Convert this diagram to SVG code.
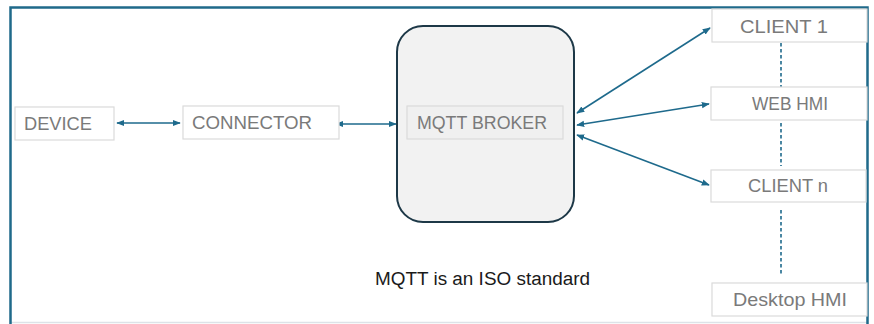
<svg xmlns="http://www.w3.org/2000/svg" width="874" height="324" viewBox="0 0 874 324">
<defs>
<marker id="ah" viewBox="0 0 10 10" refX="9" refY="5" markerWidth="5" markerHeight="5" orient="auto-start-reverse" markerUnits="strokeWidth">
<path d="M0,1 L10,5 L0,9 z" fill="#1e6a8c"/>
</marker>
<style>
.box{fill:#ffffff;stroke:#dadada;stroke-width:1.2}
.lbl{font-family:"Liberation Sans",Arial,sans-serif;font-size:18.5px;fill:#7a7a7a}
.conn{stroke:#1e6a8c;stroke-width:1.6;fill:none;marker-start:url(#ah);marker-end:url(#ah)}
.dash{stroke:#1e6a8c;stroke-width:1.6;stroke-dasharray:3.5 2.5;fill:none}
</style>
</defs>
<rect width="874" height="324" fill="#ffffff"/>
<line x1="10" y1="322.5" x2="868" y2="322.5" stroke="#dde3e8" stroke-width="1.5"/>
<path d="M10.5,330 V7.5 H867.5 V330" fill="none" stroke="#1f6a8a" stroke-width="2.5"/>
<g id="connectors">
<line class="conn" x1="117" y1="123" x2="180" y2="123"/>
<line class="conn" x1="336" y1="124" x2="396" y2="124"/>
<line class="conn" x1="577" y1="113" x2="710" y2="28"/>
<line class="conn" x1="577" y1="125" x2="709" y2="104"/>
<line class="conn" x1="577" y1="135" x2="709" y2="185"/>
<line class="dash" x1="781" y1="43" x2="781" y2="87"/>
<line class="dash" x1="781" y1="123" x2="781" y2="166"/>
<line class="dash" x1="781" y1="210" x2="781" y2="274"/>
</g>
<g id="device">
<rect class="box" x="15" y="107" width="99" height="33"/>
<text class="lbl" x="24" y="130" textLength="68" lengthAdjust="spacingAndGlyphs">DEVICE</text>
</g>
<g id="connector">
<rect class="box" x="183" y="106" width="156" height="33"/>
<text class="lbl" x="192" y="129" textLength="120" lengthAdjust="spacingAndGlyphs">CONNECTOR</text>
</g>
<g id="broker">
<rect x="397" y="26" width="177" height="196" rx="26" ry="26" fill="#f2f2f2" stroke="#1d3847" stroke-width="2"/>
<rect x="407" y="106" width="156" height="33" fill="#f0f0f0" stroke="#dadada" stroke-width="1.2"/>
<text class="lbl" x="417" y="129" textLength="130" lengthAdjust="spacingAndGlyphs">MQTT BROKER</text>
</g>
<g id="client1">
<rect class="box" x="712" y="9" width="155" height="33"/>
<text class="lbl" x="740" y="33" textLength="88" lengthAdjust="spacingAndGlyphs">CLIENT 1</text>
</g>
<g id="webhmi">
<rect class="box" x="711" y="87" width="156" height="33"/>
<text class="lbl" x="752" y="110" textLength="76" lengthAdjust="spacingAndGlyphs">WEB HMI</text>
</g>
<g id="clientn">
<rect class="box" x="711" y="170" width="155" height="32"/>
<text class="lbl" x="748" y="192" textLength="80" lengthAdjust="spacingAndGlyphs">CLIENT n</text>
</g>
<g id="desktophmi">
<rect class="box" x="712" y="283" width="155" height="33"/>
<text class="lbl" x="733" y="306" textLength="114" lengthAdjust="spacingAndGlyphs">Desktop HMI</text>
</g>
<text x="375" y="285" font-family="Liberation Sans,Arial,sans-serif" font-size="18" fill="#1a1a1a" textLength="215" lengthAdjust="spacingAndGlyphs">MQTT is an ISO standard</text>
</svg>
